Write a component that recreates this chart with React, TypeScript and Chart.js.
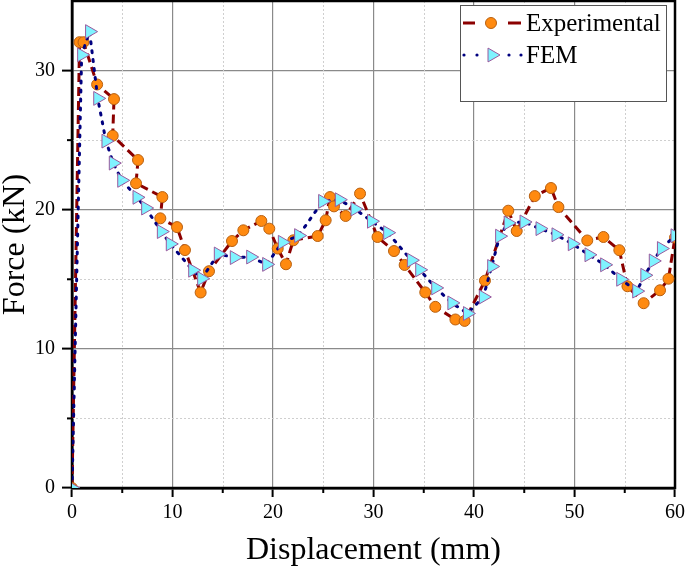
import { useEffect, useRef } from 'react';
import { Chart, registerables } from 'chart.js';

Chart.register(...registerables);

// Experimental series (displacement mm, force kN)
const expX = [0, 0.75, 1.15, 2.5, 4.18, 4.05, 6.57, 6.37, 8.99, 8.79, 10.45, 11.24, 12.8, 13.63, 15.92, 17.05, 18.84, 19.63, 20.47, 21.29, 22.02, 24.45, 25.24, 25.67, 26.07, 27.23, 28.66, 30.4, 32.04, 33.1, 35.15, 36.15, 38.15, 39.07, 41.09, 43.41, 44.25, 46.05, 47.66, 48.4, 51.27, 52.88, 54.46, 55.27, 56.88, 58.51, 59.35, 60.0];
const expY = [0, 32.04, 32.04, 29.0, 27.95, 25.32, 23.57, 21.9, 20.91, 19.38, 18.75, 17.1, 14.05, 15.58, 17.75, 18.52, 19.19, 18.64, 17.21, 16.08, 17.8, 18.11, 19.24, 20.91, 20.24, 19.55, 21.16, 18.04, 17.03, 16.03, 14.06, 13.02, 12.11, 12.01, 14.9, 19.93, 18.47, 20.98, 21.56, 20.19, 17.79, 18.04, 17.09, 14.5, 13.28, 14.21, 15.04, 18.0];

// FEM series
const femX = [0, 0.96, 1.75, 2.56, 3.38, 4.11, 4.95, 6.47, 7.33, 8.89, 9.78, 12.01, 12.9, 14.56, 16.15, 17.78, 19.37, 20.93, 22.55, 24.94, 26.6, 28.16, 29.8, 31.41, 33.77, 34.6, 36.19, 37.8, 39.35, 40.93, 41.76, 42.55, 43.4, 44.98, 46.57, 48.16, 49.78, 51.44, 53.0, 54.6, 56.19, 57.0, 57.84, 58.65, 60.0];
const femY = [0, 31.13, 32.8, 28.0, 24.93, 23.35, 22.11, 20.89, 20.12, 18.43, 17.54, 15.65, 15.05, 16.82, 16.56, 16.6, 16.07, 17.66, 18.14, 20.6, 20.72, 20.05, 19.17, 18.35, 16.37, 15.68, 14.38, 13.3, 12.54, 13.73, 15.92, 18.1, 19.05, 19.12, 18.64, 18.2, 17.55, 16.76, 16.04, 15.0, 14.15, 15.29, 16.32, 17.21, 18.13];

const seriesNames = ['Experimental', 'FEM'];
const xTickLabels = ['0', '10', '20', '30', '40', '50', '60'];
const yTickLabels = ['0', '10', '20', '30'];
const xMinorTicks = [5, 15, 25, 35, 45, 55];
const yMinorTicks = [5, 15, 25];

const FONT = "'Liberation Serif', 'Times New Roman', serif";
const EXP_LINE = '#8B0000';
const EXP_FILL = '#FF8A10';
const EXP_EDGE = '#B86010';
const FEM_LINE = '#00007F';
const FEM_FILL = '#7FF3FF';
const FEM_EDGE = '#9A5A9E';

const framePlugin = {
  id: 'framePlugin',
  beforeDatasetsDraw(chart: any) {
    const { ctx, chartArea: a, scales } = chart;
    ctx.save();
    ctx.strokeStyle = '#cfcfcf';
    ctx.lineWidth = 1;
    ctx.setLineDash([2, 2]);
    for (const v of xMinorTicks) {
      const px = Math.round(scales.x.getPixelForValue(v)) + 0.5;
      ctx.beginPath();
      ctx.moveTo(px, a.top);
      ctx.lineTo(px, a.bottom);
      ctx.stroke();
    }
    for (const v of yMinorTicks) {
      const py = Math.round(scales.y.getPixelForValue(v)) + 0.5;
      ctx.beginPath();
      ctx.moveTo(a.left, py);
      ctx.lineTo(a.right, py);
      ctx.stroke();
    }
    ctx.setLineDash([]);
    ctx.strokeStyle = '#000';
    ctx.lineWidth = 2;
    for (const v of xMinorTicks) {
      const px = scales.x.getPixelForValue(v);
      ctx.beginPath();
      ctx.moveTo(px, a.bottom);
      ctx.lineTo(px, a.bottom + 5);
      ctx.stroke();
    }
    for (const v of yMinorTicks) {
      const py = scales.y.getPixelForValue(v);
      ctx.beginPath();
      ctx.moveTo(a.left, py);
      ctx.lineTo(a.left - 5, py);
      ctx.stroke();
    }
    ctx.lineWidth = 2.5;
    ctx.strokeRect(a.left, a.top, a.right - a.left, a.bottom - a.top);
    ctx.restore();
  },
  afterDraw(chart: any) {
    const { ctx } = chart;
    ctx.save();
    // legend box
    ctx.fillStyle = '#fff';
    ctx.fillRect(460, 5, 207, 97);
    ctx.strokeStyle = '#555';
    ctx.lineWidth = 1;
    ctx.strokeRect(460.5, 5.5, 206, 96);
    // Experimental sample
    const y1 = 23;
    ctx.strokeStyle = EXP_LINE;
    ctx.lineWidth = 3;
    ctx.beginPath();
    ctx.moveTo(463, y1); ctx.lineTo(475, y1);
    ctx.moveTo(508, y1); ctx.lineTo(521, y1);
    ctx.stroke();
    ctx.beginPath();
    ctx.arc(491, y1, 5.5, 0, Math.PI * 2);
    ctx.fillStyle = EXP_FILL;
    ctx.fill();
    ctx.strokeStyle = EXP_EDGE;
    ctx.lineWidth = 1;
    ctx.stroke();
    // FEM sample
    const y2 = 55;
    ctx.fillStyle = FEM_LINE;
    for (const dx of [464, 477, 509, 521]) {
      ctx.beginPath();
      ctx.arc(dx, y2, 1.6, 0, Math.PI * 2);
      ctx.fill();
    }
    const cx = 492, r = 8;
    ctx.beginPath();
    ctx.moveTo(cx + r, y2);
    ctx.lineTo(cx - r / 2, y2 + r * 0.866);
    ctx.lineTo(cx - r / 2, y2 - r * 0.866);
    ctx.closePath();
    ctx.fillStyle = FEM_FILL;
    ctx.fill();
    ctx.strokeStyle = FEM_EDGE;
    ctx.lineWidth = 1;
    ctx.stroke();
    // texts
    ctx.fillStyle = '#000';
    ctx.font = `25px ${FONT}`;
    ctx.textBaseline = 'middle';
    ctx.textAlign = 'left';
    ctx.fillText(seriesNames[0], 526, y1 + 1);
    ctx.fillText(seriesNames[1], 526, y2 + 1);
    ctx.restore();
  },
};

export default function App() {
  const ref = useRef<HTMLCanvasElement | null>(null);

  useEffect(() => {
    document.body.style.margin = '0';
    if (!ref.current) return;
    const expData = expX.map((x, i) => ({ x, y: expY[i] }));
    const femData = femX.map((x, i) => ({ x, y: femY[i] }));

    const chart = new Chart(ref.current, {
      type: 'scatter',
      data: {
        datasets: [
          {
            label: seriesNames[0],
            data: expData,
            showLine: true,
            borderColor: EXP_LINE,
            borderWidth: 3,
            borderDash: [9, 5],
            pointStyle: 'circle',
            pointRadius: 5.5,
            pointBackgroundColor: EXP_FILL,
            pointBorderColor: EXP_EDGE,
            pointBorderWidth: 1,
            order: 2,
          },
          {
            label: seriesNames[1],
            data: femData,
            showLine: true,
            borderColor: FEM_LINE,
            borderWidth: 3,
            borderDash: [2, 7],
            borderCapStyle: 'round',
            pointStyle: 'triangle',
            pointRotation: 90,
            pointRadius: 8,
            pointBackgroundColor: FEM_FILL,
            pointBorderColor: FEM_EDGE,
            pointBorderWidth: 1,
            order: 1,
          },
        ],
      },
      options: {
        responsive: false,
        animation: false,
        layout: { autoPadding: false, padding: { top: 1, right: 0, left: 0, bottom: 0 } },
        plugins: {
          legend: { display: false },
          tooltip: { enabled: false },
        },
        scales: {
          x: {
            type: 'linear',
            min: 0,
            max: 60,
            afterFit: (s: any) => {
              s.height = 85;
              s.paddingLeft = 0;
              s.paddingRight = 10;
            },
            ticks: {
              stepSize: 10,
              includeBounds: false,
              autoSkip: false,
              maxRotation: 0,
              padding: 4,
              color: '#000',
              font: { family: FONT, size: 20 },
              callback: (v: any) => (xTickLabels.includes(String(v)) ? String(v) : ''),
            },
            grid: {
              color: '#8a8a8a',
              lineWidth: 1.2,
              tickColor: '#000',
              tickLength: 9,
              tickWidth: 2,
            },
            border: { display: true, color: '#000', width: 2.5 },
            title: {
              display: true,
              text: 'Displacement (mm)',
              color: '#000',
              font: { family: FONT, size: 32, lineHeight: 1 },
              padding: { top: 0, bottom: 6 },
            },
          },
          y: {
            type: 'linear',
            min: 0,
            max: 35,
            afterFit: (s: any) => {
              s.width = 72;
              s.paddingTop = 0;
              s.paddingBottom = 0;
            },
            ticks: {
              stepSize: 10,
              includeBounds: false,
              autoSkip: false,
              padding: 7,
              color: '#000',
              font: { family: FONT, size: 20 },
              callback: (v: any) => (yTickLabels.includes(String(v)) ? String(v) : ''),
            },
            grid: {
              color: '#8a8a8a',
              lineWidth: 1.2,
              tickColor: '#000',
              tickLength: 10,
              tickWidth: 2,
            },
            border: { display: true, color: '#000', width: 2.5 },
            title: {
              display: true,
              text: 'Force (kN)',
              color: '#000',
              font: { family: FONT, size: 32, lineHeight: 1 },
              padding: { top: 0, bottom: 0 },
            },
          },
        },
      },
      plugins: [framePlugin],
    });
    return () => chart.destroy();
  }, []);

  return (
    <div style={{ width: 685, height: 573, background: '#fff' }}>
      <canvas ref={ref} width={685} height={573} />
    </div>
  );
}
